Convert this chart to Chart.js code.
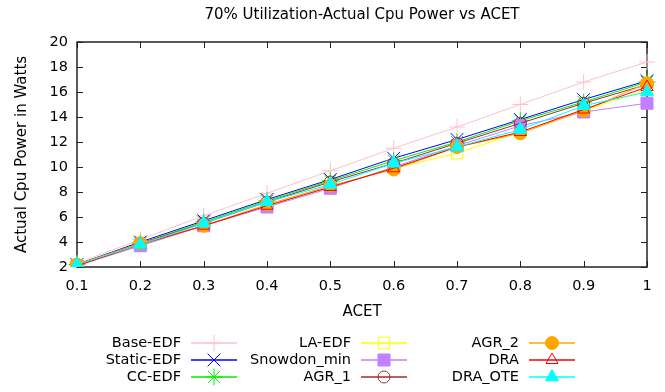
<!DOCTYPE html>
<html>
<head>
<meta charset="utf-8">
<script src="https://cdn.jsdelivr.net/npm/chart.js@4/dist/chart.umd.min.js"></script>
<style>
  html, body { margin: 0; padding: 0; background: #fff; }
</style>
</head>
<body>
<canvas id="powerChart" width="665" height="392"></canvas>
<script>
// ACET on the x axis, power in watts on the y axis
var acet = ['0.1', '0.2', '0.3', '0.4', '0.5', '0.6', '0.7', '0.8', '0.9', '1'];
var yTicks = [2, 4, 6, 8, 10, 12, 14, 16, 18, 20];

var baseEdf    = [2.3, 4.2, 6.1, 7.9, 9.7, 11.5, 13.2, 15.0, 16.8, 18.4];
var staticEdf  = [2.2, 4.0, 5.7, 7.4, 9.0, 10.7, 12.2, 13.8, 15.4, 16.9];
var ccEdf      = [2.2, 3.9, 5.6, 7.3, 8.9, 10.5, 12.0, 13.7, 15.2, 16.8];
var laEdf      = [2.1, 3.7, 5.3, 6.9, 8.4, 9.9, 11.1, 12.8, 14.5, 16.2];
var snowdonMin = [2.1, 3.7, 5.3, 6.8, 8.3, 10.0, 11.7, 13.3, 14.4, 15.1];
var agr1       = [2.2, 3.9, 5.5, 7.2, 8.8, 10.3, 11.9, 13.5, 15.1, 16.6];
var agr2       = [2.2, 3.9, 5.3, 7.0, 8.5, 9.8, 11.6, 12.7, 14.5, 16.7];
var dra        = [2.1, 3.8, 5.3, 6.9, 8.4, 9.9, 11.6, 12.8, 14.6, 16.4];
var draOte     = [2.2, 3.8, 5.5, 7.2, 8.6, 10.3, 11.6, 13.0, 14.9, 16.0];

var chartTitle = '70% Utilization-Actual Cpu Power vs ACET';
var FONT = "'DejaVu Sans', Verdana, sans-serif";

function series(label, data, color, style, radius, filled) {
  return {
    label: label,
    data: data,
    borderColor: color,
    backgroundColor: filled ? color : 'rgba(0,0,0,0)',
    borderWidth: 1,
    pointStyle: style,
    pointRadius: radius,
    pointHoverRadius: radius,
    pointBorderColor: color,
    pointBackgroundColor: filled ? color : 'rgba(0,0,0,0)',
    pointBorderWidth: 1,
    tension: 0,
    fill: false
  };
}

var datasets = [
  series('Base-EDF', baseEdf, '#ffc0cb', 'cross', 8, false),
  series('Static-EDF', staticEdf, '#0000ff', 'crossRot', 9, false),
  series('CC-EDF', ccEdf, '#00ee00', 'star', 8.5, false),
  series('LA-EDF', laEdf, '#ffff00', 'rect', 8, false),
  series('Snowdon_min', snowdonMin, '#c080ff', 'rect', 8.5, true),
  series('AGR_1', agr1, '#a52a2a', 'circle', 6, false),
  series('AGR_2', agr2, '#ffa500', 'circle', 6.5, true),
  series('DRA', dra, '#ff0000', 'triangle', 7, false),
  series('DRA_OTE', draOte, '#00ffff', 'triangle', 7.5, true)
];
// later series sit on top
datasets.forEach(function (d, i) { d.order = datasets.length - i; });

// border box with inward tick marks on all four sides
var frame = {
  id: 'frame',
  beforeDatasetsDraw: function (chart) {
    var ctx = chart.ctx, a = chart.chartArea;
    var xs = chart.scales.x, ys = chart.scales.y;
    ctx.save();
    ctx.strokeStyle = '#222';
    ctx.lineWidth = 1;
    ctx.beginPath();
    xs.ticks.forEach(function (t, i) {
      var px = Math.round(xs.getPixelForTick(i)) + 0.5;
      ctx.moveTo(px, a.bottom); ctx.lineTo(px, a.bottom - 6);
      ctx.moveTo(px, a.top); ctx.lineTo(px, a.top + 6);
    });
    ys.ticks.forEach(function (t) {
      var py = Math.round(ys.getPixelForValue(t.value)) + 0.5;
      ctx.moveTo(a.left, py); ctx.lineTo(a.left + 6, py);
      ctx.moveTo(a.right, py); ctx.lineTo(a.right - 6, py);
    });
    ctx.stroke();
    ctx.lineWidth = 1.5;
    ctx.strokeRect(a.left, a.top, a.right - a.left, a.bottom - a.top);
    ctx.restore();
  }
};

// heading centred over the plot area
var heading = {
  id: 'heading',
  afterDraw: function (chart) {
    var ctx = chart.ctx, a = chart.chartArea;
    ctx.save();
    ctx.font = '15px ' + FONT;
    ctx.fillStyle = '#000';
    ctx.textAlign = 'center';
    ctx.textBaseline = 'middle';
    ctx.fillText(chartTitle, (a.left + a.right) / 2, 15);
    ctx.restore();
  }
};

// three-column key below the axis title
var keyBox = {
  id: 'keyBox',
  afterDraw: function (chart) {
    var ctx = chart.ctx;
    var colRight = [181, 351, 519];
    var rowY = [343, 360, 377];
    ctx.save();
    ctx.font = '14.5px ' + FONT;
    ctx.textAlign = 'right';
    ctx.textBaseline = 'middle';
    chart.data.datasets.forEach(function (d, i) {
      var c = Math.floor(i / 3), r = i % 3;
      var tx = colRight[c], y = rowY[r];
      ctx.fillStyle = '#000';
      ctx.fillText(d.label, tx, y);
      var x0 = tx + 10, x1 = tx + 56;
      ctx.strokeStyle = d.borderColor;
      ctx.globalAlpha = 0.75;
      ctx.lineWidth = 2;
      ctx.beginPath();
      ctx.moveTo(x0, y); ctx.lineTo(x1, y);
      ctx.stroke();
      ctx.globalAlpha = 1;
      ctx.lineWidth = 1;
      ctx.fillStyle = d.pointBackgroundColor;
      ctx.strokeStyle = d.pointBorderColor;
      Chart.helpers.drawPoint(ctx, {
        pointStyle: d.pointStyle,
        radius: d.pointRadius,
        rotation: 0,
        borderWidth: 1
      }, (x0 + x1) / 2, y);
    });
    ctx.restore();
  }
};

new Chart(document.getElementById('powerChart').getContext('2d'), {
  type: 'line',
  data: { labels: acet, datasets: datasets },
  plugins: [frame, heading, keyBox],
  options: {
    responsive: false,
    animation: false,
    devicePixelRatio: 1,
    layout: { padding: { left: 0, right: 18, top: 42, bottom: 0 } },
    plugins: {
      legend: { display: false },
      tooltip: { enabled: false },
      title: { display: false }
    },
    scales: {
      x: {
        type: 'category',
        offset: false,
        grid: { display: false, drawTicks: false },
        border: { display: false },
        ticks: {
          color: '#000',
          padding: 11,
          maxRotation: 0,
          autoSkip: false,
          font: { family: FONT, size: 14.5 }
        },
        title: {
          display: true,
          text: 'ACET',
          color: '#000',
          font: { family: FONT, size: 15 },
          padding: { top: 0, bottom: 71 }
        },
        afterFit: function (s) { s.height = 125; }
      },
      y: {
        min: yTicks[0],
        max: yTicks[yTicks.length - 1],
        grid: { display: false, drawTicks: false },
        border: { display: false },
        afterBuildTicks: function (s) {
          s.ticks = yTicks.map(function (v) { return { value: v }; });
        },
        ticks: {
          color: '#000',
          padding: 9,
          font: { family: FONT, size: 14.5 }
        },
        title: {
          display: true,
          text: 'Actual Cpu Power in Watts',
          color: '#000',
          font: { family: FONT, size: 15 },
          padding: { top: 13, bottom: 0 }
        },
        afterFit: function (s) { s.width = 77; }
      }
    }
  }
});
</script>
</body>
</html>
